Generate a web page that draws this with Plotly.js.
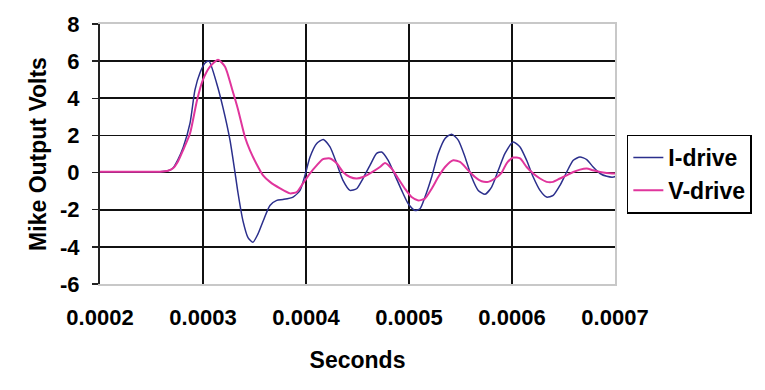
<!DOCTYPE html>
<html>
<head>
<meta charset="utf-8">
<script src="https://cdn.plot.ly/plotly-3.0.1.min.js"></script>
<style>html,body{margin:0;padding:0;background:#fff;}</style>
</head>
<body>
<div id="chart" style="width:765px;height:390px;"></div>
<script>
// time in microseconds (converted to seconds below)
const iDriveT = [200,229.1,258.3,266.0,270.9,275.7,280.9,287.4,292.2,297.1,302.0,305.8,313.3,319.4,326.2,331.1,334.0,338.8,343.7,348.5,353.4,358.6,365.0,371.6,377.7,387.4,394.2,399.0,403.9,410.4,416.8,423.3,429.8,435.9,442.7,449.1,455.3,462.1,468.6,473.4,479.8,486.4,492.9,499.3,505.8,510.7,515.5,522.0,528.4,535.0,541.4,547.8,554.4,560.8,567.2,573.8,580.2,586.7,593.2,601.2,607.8,614.2,620.6,627.2,633.6,640.0,646.6,653.1,659.5,666.0,672.5,678.8,685.5,692.0,698.5,700];
const iDriveV = [0.05,0.05,0.05,0.1,0.25,0.7,1.38,2.66,4.45,5.37,5.9,6.0,4.8,3.5,1.75,0.0,-1.1,-2.6,-3.5,-3.75,-3.3,-2.58,-1.77,-1.5,-1.45,-1.32,-0.96,-0.15,0.84,1.57,1.78,1.38,0.49,-0.42,-0.96,-0.87,-0.32,0.39,1.03,1.11,0.66,-0.15,-0.96,-1.68,-2.04,-1.95,-1.32,-0.24,1.03,1.84,2.07,1.75,0.84,-0.24,-0.96,-1.17,-0.78,0.12,1.03,1.65,1.38,0.66,-0.24,-0.96,-1.32,-1.23,-0.69,0.03,0.66,0.84,0.7,0.3,-0.05,-0.2,-0.24,-0.2];
const vDriveT = [200,258.3,266.0,270.9,275.7,280.6,287.4,294.2,300.0,306.8,314.6,321.4,328.2,334.0,340.8,345.6,352.1,358.3,365.0,374.8,384.5,391.0,397.1,403.9,410.4,416.5,423.3,429.8,435.9,442.7,449.1,455.3,462.1,471.8,476.7,483.1,489.5,496.1,502.5,509.0,515.5,522.0,528.4,535.0,543.0,549.5,557.5,564.1,570.5,576.9,583.5,590.0,594.8,601.2,607.8,614.2,620.6,627.2,633.6,640.0,646.6,653.1,659.5,666.0,672.5,678.8,685.5,692.0,700];
const vDriveV = [0.05,0.05,0.1,0.23,0.6,1.2,2.1,3.9,5.0,5.7,6.07,5.7,4.5,3.4,1.9,1.2,0.45,-0.15,-0.5,-0.85,-1.12,-1.05,-0.58,-0.04,0.39,0.72,0.76,0.5,0.03,-0.24,-0.32,-0.24,-0.04,0.3,0.52,0.22,-0.32,-0.87,-1.32,-1.5,-1.4,-0.87,-0.24,0.3,0.66,0.57,0.12,-0.24,-0.47,-0.5,-0.32,0.0,0.5,0.81,0.76,0.3,-0.05,-0.32,-0.5,-0.5,-0.32,-0.15,0.03,0.16,0.22,0.12,0.03,-0.02,-0.05];
const xTickVals = [0.0002,0.0003,0.0004,0.0005,0.0006,0.0007];
const xTickText = ["0.0002","0.0003","0.0004","0.0005","0.0006","0.0007"];
const yTickVals = [-6,-4,-2,0,2,4,6,8];
const yTickText = ["-6","-4","-2","0","2","4","6","8"];
const seriesNames = ["I-drive","V-drive"];

const toSec = a => a.map(v => v * 1e-6);
const FAM = "Liberation Sans, Arial, sans-serif";
const F = {family: FAM, size: 22, color: "#000", weight: "bold"};
const FT = {family: FAM, size: 23, color: "#000", weight: "bold"};
const FL = {family: FAM, size: 23, color: "#000", weight: "bold"};

const traces = [
  {x: toSec(iDriveT), y: iDriveV, name: seriesNames[0], type: "scatter", mode: "lines",
   line: {color: "#2b2f8c", width: 1.5, shape: "spline", smoothing: 0.6}},
  {x: toSec(vDriveT), y: vDriveV, name: seriesNames[1], type: "scatter", mode: "lines",
   line: {color: "#e0359c", width: 2, shape: "spline", smoothing: 0.6}},
  {x: [], y: [], yaxis: "y2", showlegend: false, hoverinfo: "skip"}
];

const layout = {
  width: 765, height: 390,
  margin: {l: 100, r: 150, t: 24, b: 106},
  paper_bgcolor: "#fff", plot_bgcolor: "#fff",
  font: F,
  showlegend: true,
  legend: {x: 1.023, y: 0.575, xanchor: "left", yanchor: "top",
           bordercolor: "#000", borderwidth: 1.5, bgcolor: "#fff",
           font: FL, itemwidth: 30, tracegroupgap: 0},
  xaxis: {range: [0.0002, 0.0007], tickvals: xTickVals, ticktext: xTickText,
          showgrid: true, gridcolor: "#111", gridwidth: 1.6,
          showline: true, linecolor: "#c8c8c8", linewidth: 2, mirror: true,
          ticks: "", zeroline: false, ticklabelstandoff: 13, tickfont: F,
          title: {text: "Seconds", font: FT, standoff: 22}},
  yaxis: {range: [-6, 8], tickvals: yTickVals, ticktext: yTickText,
          showgrid: true, gridcolor: "#111", gridwidth: 1.6,
          showline: true, linecolor: "#222", linewidth: 2,
          ticks: "outside", ticklen: 6, tickwidth: 1.5, tickcolor: "#222",
          zeroline: false, ticklabelstandoff: 8, tickfont: F,
          title: {text: "Mike Output Volts", font: FT, standoff: 7}},
  yaxis2: {range: [-6, 8], overlaying: "y", side: "right", showgrid: false,
           showticklabels: false, ticks: "", zeroline: false,
           showline: true, linecolor: "#c8c8c8", linewidth: 2}
};

Plotly.newPlot("chart", traces, layout, {displayModeBar: false, staticPlot: true});
</script>
</body>
</html>
